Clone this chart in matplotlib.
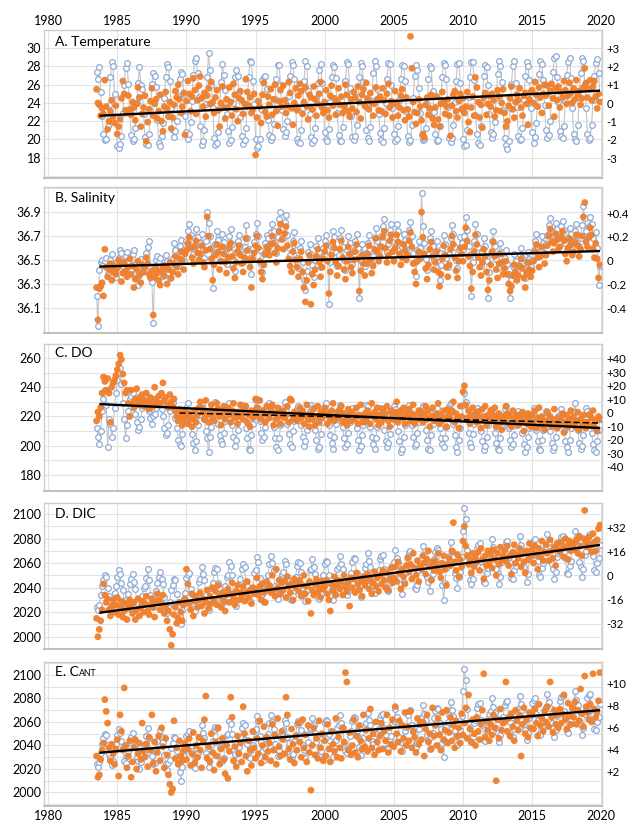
import numpy as np
import matplotlib
matplotlib.use("Agg")
import matplotlib.pyplot as plt

plt.rcParams["font.family"] = ["Lato", "DejaVu Sans"]

# sampling: first value 1983.5, then every 0.1 year (rows = one year)
start_year = 1983.5
step_year = 0.1

# ---------------- A. Temperature ----------------
temp_obs = [
    27.4, 26.6, 27.9, 25.2, 22.6,
    20.6, 19.9, 20.1, 21.5, 23.8, 26.8, 28.5, 28.1, 25.0, 22.4,
    19.3, 19.1, 19.5, 20.4, 22.9, 26.0, 27.8, 28.4, 26.1, 23.0,
    20.5, 19.8, 20.0, 21.2, 24.0, 26.2, 27.9, 26.0, 25.5, 22.8,
    20.3, 19.5, 19.4, 20.6, 23.2, 26.1, 27.3, 27.0, 25.8, 22.1,
    19.6, 19.3, 20.4, 21.8, 24.5, 26.9, 28.3, 27.9, 26.4, 23.5,
    21.0, 20.3, 20.9, 22.0, 24.8, 26.6, 27.4, 27.2, 25.0, 22.6,
    20.8, 20.1, 20.6, 21.9, 24.2, 27.1, 28.6, 28.9, 27.3, 24.6,
    21.5, 19.4, 19.8, 21.0, 23.9, 26.8, 29.5, 27.6, 26.0, 23.4,
    20.2, 19.4, 19.6, 20.8, 23.5, 26.3, 28.3, 27.1, 25.4, 22.8,
    20.9, 19.6, 19.9, 21.4, 24.0, 26.8, 27.6, 27.0, 25.2, 22.5,
    20.4, 19.5, 19.9, 21.2, 23.9, 26.9, 28.6, 28.5, 26.4, 23.9,
    20.1, 19.1, 19.3, 20.0, 23.3, 26.5, 26.9, 27.0, 25.5, 22.1,
    20.5, 19.9, 20.3, 21.7, 24.4, 26.6, 28.2, 28.2, 26.0, 23.2,
    21.1, 20.4, 20.8, 22.0, 24.8, 27.0, 28.5, 28.2, 26.6, 23.6,
    20.1, 19.7, 19.6, 21.0, 23.5, 26.4, 28.6, 28.0, 25.3, 22.8,
    20.3, 19.6, 19.9, 21.3, 24.5, 26.2, 27.6, 28.3, 26.2, 23.8,
    20.8, 20.0, 19.8, 21.1, 24.1, 26.8, 28.2, 27.9, 26.7, 22.9,
    20.5, 19.8, 19.8, 21.4, 23.8, 26.4, 28.5, 28.3, 25.6, 22.6,
    20.3, 19.9, 20.4, 21.6, 24.6, 26.8, 28.4, 28.1, 26.3, 23.7,
    21.0, 20.2, 19.8, 21.4, 24.2, 27.3, 28.6, 28.0, 25.5, 22.8,
    20.7, 19.9, 19.7, 21.2, 24.0, 26.6, 28.4, 28.3, 26.0, 23.5,
    20.6, 19.8, 20.0, 21.5, 24.3, 26.6, 28.2, 28.1, 26.4, 23.1,
    20.4, 19.7, 19.9, 21.6, 24.5, 27.0, 28.2, 27.6, 25.6, 22.9,
    20.5, 19.9, 20.1, 21.3, 23.9, 26.6, 28.0, 27.8, 25.3, 23.0,
    20.6, 19.8, 19.9, 21.5, 24.3, 26.9, 28.4, 28.2, 26.6, 23.6,
    20.2, 19.7, 20.2, 21.6, 24.1, 26.4, 28.3, 28.4, 26.2, 23.4,
    20.1, 19.3, 19.4, 21.0, 24.6, 26.9, 28.5, 28.5, 26.5, 22.7,
    20.6, 19.6, 19.4, 21.5, 24.0, 27.0, 28.2, 27.9, 26.0, 22.8,
    20.8, 20.2, 20.6, 21.9, 24.5, 27.2, 28.6, 28.1, 26.3, 23.2,
    20.2, 19.4, 19.0, 19.8, 23.4, 26.1, 28.0, 28.6, 26.2, 23.6,
    20.4, 19.9, 20.1, 21.2, 24.3, 27.0, 28.5, 28.0, 26.5, 23.4,
    20.8, 19.6, 20.3, 21.8, 24.6, 27.2, 28.6, 28.3, 26.5, 23.8,
    21.0, 20.2, 20.5, 22.0, 24.9, 27.4, 28.9, 29.2, 26.8, 24.1,
    20.9, 20.4, 20.2, 21.5, 24.2, 27.1, 28.5, 28.9, 26.7, 23.5,
    20.6, 20.1, 19.8, 21.6, 24.6, 27.3, 28.9, 28.6, 26.1, 23.5,
    20.6, 19.9, 20.2, 21.6, 24.3, 27.0, 28.4, 28.8, 27.3, 24.6,
]
temp_anom = [
    25.5, 24.0, 23.8, 22.6, 23.4,
    22.8, 26.5, 23.6, 21.1, 22.0, 23.1, 24.3, 22.5, 21.8, 23.7,
    20.6, 21.4, 22.2, 24.5, 26.4, 25.0, 23.2, 22.9, 24.8, 23.3,
    22.7, 24.1, 23.5, 22.1, 23.9, 25.7, 24.6, 21.4, 22.8, 23.5,
    24.8, 19.8, 21.9, 23.3, 24.2, 25.6, 22.6, 23.9, 24.4, 22.3,
    23.1, 24.9, 22.0, 20.9, 23.6, 25.2, 23.4, 22.5, 24.1, 21.2,
    22.4, 23.8, 25.3, 24.6, 26.0, 24.4, 22.9, 23.6, 25.1, 20.5,
    24.2, 26.4, 25.0, 23.1, 24.7, 26.7, 25.4, 22.8, 24.3, 25.9,
    26.9, 24.5, 23.6, 25.1, 22.5, 24.8, 25.6, 23.9, 26.3, 24.1,
    22.9, 24.6, 25.4, 23.2, 21.4, 24.0, 25.8, 23.5, 22.3, 24.4,
    23.5, 25.7, 24.1, 22.6, 26.1, 24.9, 23.3, 22.0, 24.5, 25.3,
    24.3, 22.8, 23.9, 26.6, 25.2, 23.7, 24.6, 22.9, 23.3, 25.0,
    18.3, 22.4, 24.2, 23.6, 21.8, 24.9, 26.2, 23.0, 22.5, 24.7,
    23.8, 25.5, 22.7, 24.4, 26.0, 23.1, 21.5, 24.2, 25.4, 23.6,
    25.9, 24.3, 22.9, 23.7, 26.3, 25.1, 23.4, 21.6, 24.0, 25.6,
    23.2, 24.8, 26.1, 25.3, 22.8, 24.1, 25.7, 23.6, 22.2, 24.9,
    24.6, 23.3, 25.8, 24.4, 22.6, 23.9, 25.0, 26.3, 23.5, 22.9,
    24.1, 25.4, 23.2, 22.4, 24.8, 25.9, 23.7, 24.5, 22.7, 24.2,
    25.6, 23.8, 24.7, 22.9, 23.6, 26.0, 24.9, 23.1, 22.5, 24.4,
    23.4, 25.2, 24.6, 23.0, 25.8, 24.1, 22.3, 24.9, 25.5, 23.7,
    26.2, 24.5, 23.3, 25.1, 24.0, 22.6, 23.9, 25.7, 24.4, 23.2,
    24.7, 23.1, 25.6, 24.3, 22.8, 25.0, 26.1, 23.5, 24.2, 22.4,
    23.9, 25.3, 24.0, 22.6, 23.5, 24.8, 25.5, 23.2, 22.1, 24.6,
    23.3, 22.5, 31.3, 27.8, 24.1, 23.0, 21.7, 22.9, 24.4, 23.6,
    22.1, 20.6, 20.2, 23.8, 24.6, 22.7, 23.4, 24.9, 22.3, 21.6,
    23.5, 24.7, 22.2, 21.4, 23.9, 25.2, 24.1, 22.8, 23.6, 24.4,
    22.6, 20.4, 23.7, 24.9, 25.3, 23.1, 22.4, 24.2, 25.0, 23.3,
    24.5, 22.9, 23.6, 25.2, 21.9, 20.8, 23.5, 24.7, 22.6, 26.8,
    25.7, 24.1, 22.4, 23.8, 21.3, 24.6, 25.1, 22.7, 23.9, 24.8,
    23.6, 25.0, 24.3, 22.5, 23.2, 25.4, 24.7, 23.1, 24.0, 25.5,
    22.9, 21.4, 22.0, 23.7, 24.5, 25.8, 23.3, 22.4, 24.1, 24.9,
    24.3, 25.6, 23.5, 22.6, 24.8, 25.1, 23.9, 21.6, 24.4, 25.2,
    25.4, 24.0, 26.3, 24.9, 23.6, 25.7, 24.6, 22.9, 25.0, 26.0,
    24.8, 25.9, 23.7, 25.3, 26.1, 24.5, 22.5, 25.6, 24.3, 25.8,
    23.5, 25.2, 24.6, 26.4, 25.4, 23.9, 24.8, 26.2, 25.1, 24.0,
    25.6, 24.4, 26.5, 24.9, 25.3, 23.8, 24.5, 25.7, 27.8, 26.2,
    24.6, 25.5, 26.5, 24.3, 25.8, 26.4, 24.7, 23.4, 25.0, 24.1,
]
temp_trend = [22.6, 25.35]

# ---------------- B. Salinity ----------------
sal_obs = [
    36.20, 35.95, 36.42, 36.48, 36.50,
    36.46, 36.49, 36.52, 36.38, 36.44, 36.50, 36.55, 36.47, 36.41, 36.36,
    36.48, 36.52, 36.58, 36.56, 36.45, 36.40, 36.53, 36.57, 36.49, 36.44,
    36.42, 36.55, 36.58, 36.47, 36.36, 36.29, 36.45, 36.51, 36.40, 36.47,
    36.50, 36.56, 36.61, 36.66, 36.43, 36.32, 35.97, 36.44, 36.50, 36.53,
    36.48, 36.52, 36.41, 36.37, 36.46, 36.54, 36.49, 36.39, 36.35, 36.47,
    36.52, 36.64, 36.58, 36.51, 36.45, 36.62, 36.67, 36.55, 36.49, 36.59,
    36.66, 36.74, 36.80, 36.71, 36.62, 36.55, 36.68, 36.76, 36.69, 36.58,
    36.64, 36.72, 36.59, 36.52, 36.66, 36.90, 36.81, 36.70, 36.60, 36.27,
    36.55, 36.63, 36.74, 36.67, 36.49, 36.58, 36.72, 36.65, 36.56, 36.47,
    36.60, 36.70, 36.76, 36.63, 36.50, 36.41, 36.57, 36.66, 36.71, 36.62,
    36.55, 36.48, 36.61, 36.79, 36.68, 36.59, 36.52, 36.38, 36.60, 36.65,
    36.72, 36.81, 36.70, 36.58, 36.47, 36.40, 36.55, 36.64, 36.71, 36.68,
    36.62, 36.73, 36.80, 36.74, 36.65, 36.56, 36.69, 36.84, 36.90, 36.76,
    36.68, 36.82, 36.88, 36.71, 36.60, 36.54, 36.47, 36.66, 36.73, 36.58,
    36.52, 36.43, 36.60, 36.66, 36.48, 36.33, 36.25, 36.41, 36.57, 36.63,
    36.55, 36.46, 36.36, 36.50, 36.62, 36.68, 36.57, 36.44, 36.52, 36.60,
    36.66, 36.71, 36.58, 36.13, 36.48, 36.63, 36.74, 36.69, 36.57, 36.45,
    36.54, 36.68, 36.75, 36.61, 36.50, 36.42, 36.58, 36.70, 36.64, 36.52,
    36.47, 36.58, 36.66, 36.72, 36.60, 36.18, 36.49, 36.63, 36.55, 36.45,
    36.56, 36.64, 36.71, 36.59, 36.47, 36.53, 36.68, 36.77, 36.66, 36.58,
    36.62, 36.70, 36.78, 36.84, 36.69, 36.57, 36.63, 36.75, 36.80, 36.66,
    36.58, 36.69, 36.80, 36.74, 36.64, 36.55, 36.61, 36.72, 36.67, 36.59,
    36.63, 36.75, 36.82, 36.70, 36.56, 36.48, 36.37, 36.58, 36.66, 36.60,
    37.06, 36.78, 36.64, 36.51, 36.42, 36.55, 36.68, 36.74, 36.62, 36.50,
    36.57, 36.66, 36.48, 36.33, 36.46, 36.60, 36.71, 36.63, 36.52, 36.44,
    36.55, 36.68, 36.79, 36.72, 36.61, 36.50, 36.43, 36.58, 36.69, 36.64,
    36.58, 36.70, 36.86, 36.75, 36.62, 36.54, 36.20, 36.48, 36.66, 36.80,
    36.72, 36.61, 36.53, 36.45, 36.57, 36.68, 36.62, 36.49, 36.18, 36.40,
    36.55, 36.66, 36.74, 36.62, 36.51, 36.43, 36.56, 36.64, 36.57, 36.46,
    36.52, 36.58, 36.47, 36.38, 36.18, 36.33, 36.45, 36.55, 36.49, 36.41,
    36.46, 36.54, 36.60, 36.52, 36.43, 36.35, 36.48, 36.57, 36.51, 36.44,
    36.50, 36.58, 36.66, 36.72, 36.61, 36.53, 36.62, 36.70, 36.64, 36.56,
    36.63, 36.71, 36.79, 36.85, 36.74, 36.66, 36.73, 36.81, 36.76, 36.68,
    36.70, 36.78, 36.83, 36.75, 36.64, 36.58, 36.69, 36.77, 36.72, 36.63,
    36.66, 36.74, 36.80, 36.71, 36.62, 36.68, 36.79, 36.95, 36.85, 36.74,
    36.70, 36.78, 36.86, 36.80, 36.68, 36.61, 36.73, 36.60, 36.29, 36.45,
]
sal_anom = [
    36.27, 36.00, 36.26, 36.28, 36.31,
    36.20, 36.59, 36.44, 36.36, 36.42, 36.47, 36.33, 36.40, 36.45, 36.38,
    36.43, 36.50, 36.46, 36.32, 36.39, 36.48, 36.41, 36.36, 36.44, 36.51,
    36.38, 36.45, 36.27, 36.34, 36.42, 36.49, 36.37, 36.31, 36.46, 36.40,
    36.44, 36.52, 36.47, 36.38, 36.35, 36.41, 36.04, 36.36, 36.43, 36.39,
    36.33, 36.29, 36.41, 36.45, 36.37, 36.44, 36.30, 36.42, 36.48, 36.35,
    36.40, 36.47, 36.53, 36.44, 36.38, 36.51, 36.57, 36.49, 36.42, 36.55,
    36.58, 36.64, 36.69, 36.60, 36.52, 36.47, 36.61, 36.66, 36.56, 36.50,
    36.55, 36.62, 36.48, 36.44, 36.58, 36.86, 36.70, 36.59, 36.51, 36.33,
    36.46, 36.54, 36.63, 36.57, 36.42, 36.49, 36.61, 36.55, 36.48, 36.39,
    36.52, 36.60, 36.64, 36.53, 36.43, 36.35, 36.48, 36.57, 36.62, 36.54,
    36.47, 36.40, 36.52, 36.68, 36.58, 36.50, 36.44, 36.27, 36.51, 36.56,
    36.62, 36.70, 36.60, 36.49, 36.40, 36.34, 36.46, 36.55, 36.61, 36.58,
    36.54, 36.63, 36.70, 36.64, 36.56, 36.48, 36.60, 36.74, 36.80, 36.67,
    36.59, 36.72, 36.78, 36.62, 36.51, 36.45, 36.40, 36.57, 36.64, 36.50,
    36.44, 36.36, 36.51, 36.57, 36.40, 36.27, 36.15, 36.33, 36.48, 36.54,
    36.13, 36.38, 36.29, 36.42, 36.53, 36.59, 36.48, 36.36, 36.44, 36.51,
    36.57, 36.62, 36.49, 36.22, 36.40, 36.54, 36.65, 36.60, 36.48, 36.37,
    36.45, 36.59, 36.66, 36.52, 36.42, 36.34, 36.49, 36.61, 36.55, 36.44,
    36.39, 36.50, 36.57, 36.63, 36.51, 36.24, 36.41, 36.54, 36.47, 36.37,
    36.47, 36.55, 36.62, 36.50, 36.39, 36.45, 36.59, 36.68, 36.57, 36.49,
    36.53, 36.61, 36.69, 36.74, 36.60, 36.48, 36.54, 36.66, 36.71, 36.57,
    36.49, 36.60, 36.71, 36.65, 36.55, 36.46, 36.52, 36.63, 36.58, 36.50,
    36.54, 36.66, 36.73, 36.61, 36.47, 36.40, 36.30, 36.49, 36.57, 36.51,
    36.90, 36.69, 36.55, 36.43, 36.34, 36.46, 36.59, 36.65, 36.53, 36.42,
    36.48, 36.57, 36.40, 36.28, 36.38, 36.51, 36.62, 36.54, 36.44, 36.36,
    36.46, 36.59, 36.70, 36.63, 36.52, 36.41, 36.35, 36.49, 36.60, 36.55,
    36.49, 36.61, 36.77, 36.66, 36.53, 36.45, 36.26, 36.40, 36.57, 36.71,
    36.63, 36.52, 36.44, 36.37, 36.48, 36.59, 36.53, 36.40, 36.25, 36.33,
    36.46, 36.57, 36.65, 36.53, 36.42, 36.35, 36.47, 36.55, 36.48, 36.38,
    36.43, 36.49, 36.38, 36.30, 36.24, 36.28, 36.37, 36.46, 36.40, 36.33,
    36.37, 36.45, 36.51, 36.43, 36.35, 36.27, 36.39, 36.48, 36.42, 36.36,
    36.41, 36.49, 36.57, 36.63, 36.52, 36.44, 36.53, 36.61, 36.55, 36.47,
    36.54, 36.62, 36.70, 36.76, 36.65, 36.57, 36.64, 36.72, 36.67, 36.59,
    36.61, 36.69, 36.74, 36.66, 36.55, 36.49, 36.60, 36.68, 36.63, 36.54,
    36.57, 36.65, 36.71, 36.62, 36.53, 36.59, 36.70, 36.86, 36.98, 36.65,
    36.61, 36.69, 36.77, 36.71, 36.59, 36.52, 36.64, 36.51, 36.35, 36.46,
]
sal_trend = [36.445, 36.575]

# ---------------- C. DO ----------------
do_obs = [
    212, 206, 201, 210, 224,
    232, 238, 228, 199, 218, 215, 206, 212, 226, 236,
    245, 250, 253, 242, 229, 218, 205, 214, 224, 232,
    234, 236, 229, 222, 216, 211, 213, 218, 226, 229,
    231, 233, 228, 224, 219, 215, 220, 222, 226, 230,
    228, 231, 225, 220, 212, 207, 209, 214, 224, 227,
    229, 225, 219, 212, 204, 201, 200, 208, 216, 222,
    226, 229, 224, 216, 208, 202, 197, 203, 214, 221,
    224, 228, 226, 218, 210, 205, 196, 206, 213, 220,
    227, 230, 225, 215, 207, 203, 201, 209, 217, 222,
    225, 229, 223, 214, 206, 200, 204, 211, 218, 224,
    228, 226, 220, 212, 205, 198, 197, 207, 215, 223,
    231, 232, 226, 217, 209, 204, 206, 213, 219, 225,
    229, 227, 221, 213, 205, 199, 197, 205, 214, 222,
    226, 230, 224, 215, 208, 201, 199, 210, 217, 221,
    225, 227, 222, 214, 206, 200, 203, 211, 218, 224,
    228, 226, 219, 211, 204, 198, 199, 208, 216, 222,
    227, 229, 223, 214, 207, 202, 198, 206, 215, 221,
    225, 228, 222, 213, 205, 199, 201, 209, 216, 223,
    226, 224, 219, 212, 204, 197, 200, 207, 214, 220,
    228, 227, 221, 213, 206, 201, 198, 205, 213, 221,
    224, 226, 220, 211, 203, 199, 202, 208, 215, 222,
    227, 225, 218, 210, 203, 196, 198, 206, 214, 221,
    226, 228, 222, 214, 206, 200, 201, 209, 216, 223,
    225, 227, 220, 211, 204, 198, 197, 207, 215, 220,
    224, 226, 221, 212, 205, 201, 199, 205, 213, 221,
    227, 229, 224, 215, 207, 199, 196, 204, 212, 219,
    228, 236, 230, 218, 209, 202, 199, 208, 215, 222,
    226, 224, 219, 210, 203, 197, 200, 206, 214, 220,
    223, 225, 218, 209, 202, 198, 197, 205, 213, 219,
    225, 227, 221, 212, 204, 199, 201, 207, 214, 221,
    224, 222, 217, 209, 201, 196, 199, 206, 212, 218,
    222, 226, 220, 211, 203, 198, 197, 204, 211, 219,
    224, 223, 218, 210, 202, 197, 199, 206, 213, 220,
    221, 225, 219, 210, 203, 199, 196, 204, 212, 218,
    223, 229, 220, 211, 202, 198, 200, 207, 214, 226,
    224, 222, 217, 209, 201, 197, 196, 203, 211, 218,
]
do_anom = [
    217, 223, 220, 226, 236,
    247, 244, 238, 246, 236, 216, 240, 243, 245, 248,
    252, 256, 262, 259, 249, 243, 236, 238, 229, 220,
    238, 229, 226, 232, 239, 228, 233, 230, 235, 227,
    231, 236, 229, 225, 233, 230, 227, 240, 232, 228,
    234, 229, 236, 243, 231, 233, 228, 226, 235, 230,
    227, 232, 224, 220, 217, 225, 221, 214, 218, 223,
    220, 215, 222, 218, 213, 219, 224, 216, 221, 226,
    230, 226, 223, 218, 231, 221, 216, 224, 228, 219,
    217, 223, 229, 225, 220, 214, 222, 227, 218, 224,
    226, 221, 216, 224, 229, 219, 223, 215, 220, 228,
    222, 218, 225, 227, 216, 221, 213, 224, 219, 223,
    232, 226, 220, 231, 218, 224, 222, 216, 227, 221,
    219, 225, 228, 214, 222, 218, 226, 220, 215, 223,
    224, 219, 221, 227, 216, 232, 231, 218, 223, 220,
    217, 222, 226, 219, 224, 215, 221, 228, 218, 213,
    222, 218, 225, 214, 220, 227, 216, 223, 219, 224,
    226, 221, 215, 222, 218, 224, 229, 217, 220, 223,
    219, 224, 227, 216, 222, 218, 214, 225, 221, 217,
    223, 218, 220, 226, 215, 221, 228, 219, 216, 222,
    217, 224, 221, 215, 229, 220, 223, 218, 226, 214,
    221, 216, 225, 219, 222, 227, 217, 213, 224, 220,
    218, 223, 230, 216, 221, 224, 219, 226, 215, 222,
    220, 225, 217, 222, 228, 215, 221, 218, 224, 219,
    223, 216, 221, 227, 218, 224, 213, 220, 226, 217,
    219, 222, 229, 215, 221, 217, 224, 219, 213, 225,
    221, 218, 224, 230, 216, 222, 219, 212, 227, 220,
    237, 241, 228, 219, 224, 215, 221, 226, 218, 222,
    216, 223, 219, 212, 225, 220, 227, 214, 221, 218,
    224, 217, 221, 226, 213, 219, 222, 216, 211, 220,
    218, 227, 222, 215, 220, 213, 224, 219, 216, 221,
    214, 220, 217, 223, 210, 219, 215, 222, 218, 213,
    221, 216, 224, 212, 219, 226, 214, 220, 217, 211,
    217, 223, 215, 220, 213, 218, 225, 216, 212, 219,
    214, 219, 222, 209, 216, 221, 213, 218, 224, 215,
    220, 213, 217, 223, 211, 218, 214, 221, 216, 212,
    216, 221, 214, 219, 224, 213, 217, 210, 220, 218,
]
do_trend = [228.5, 212.1]
do_trend2_years = [1989.5, 2019.9]
do_trend2 = [222.4, 215.5]

# ---------------- D. DIC ----------------
dic_obs = [
    2024, 2022, 2026, 2034, 2041,
    2046, 2050, 2049, 2040, 2033, 2029, 2023, 2027, 2036, 2041,
    2049, 2054, 2051, 2044, 2038, 2027, 2025, 2031, 2035, 2043,
    2047, 2051, 2045, 2039, 2030, 2027, 2020, 2026, 2033, 2040,
    2041, 2048, 2055, 2046, 2034, 2031, 2024, 2025, 2037, 2044,
    2049, 2053, 2047, 2043, 2032, 2024, 2019, 2025, 2028, 2038,
    2042, 2047, 2046, 2035, 2025, 2017, 2010, 2022, 2031, 2036,
    2048, 2050, 2052, 2039, 2035, 2023, 2021, 2030, 2034, 2045,
    2047, 2057, 2051, 2046, 2034, 2030, 2022, 2031, 2040, 2044,
    2053, 2056, 2055, 2044, 2039, 2028, 2027, 2029, 2041, 2049,
    2050, 2061, 2058, 2050, 2036, 2033, 2025, 2034, 2039, 2047,
    2055, 2059, 2057, 2045, 2041, 2030, 2029, 2036, 2040, 2052,
    2054, 2065, 2061, 2048, 2043, 2035, 2028, 2038, 2042, 2050,
    2059, 2066, 2060, 2054, 2041, 2037, 2031, 2036, 2047, 2051,
    2053, 2062, 2059, 2047, 2042, 2031, 2030, 2033, 2044, 2049,
    2058, 2061, 2060, 2053, 2040, 2036, 2029, 2038, 2043, 2054,
    2055, 2063, 2057, 2051, 2043, 2032, 2031, 2035, 2046, 2050,
    2059, 2062, 2061, 2050, 2044, 2038, 2030, 2039, 2045, 2055,
    2057, 2066, 2059, 2055, 2042, 2035, 2034, 2037, 2048, 2052,
    2061, 2064, 2063, 2052, 2047, 2039, 2032, 2042, 2046, 2056,
    2059, 2068, 2062, 2057, 2044, 2041, 2036, 2039, 2050, 2054,
    2063, 2066, 2067, 2055, 2049, 2038, 2037, 2044, 2048, 2058,
    2061, 2071, 2064, 2060, 2047, 2043, 2035, 2045, 2052, 2056,
    2066, 2069, 2070, 2057, 2052, 2040, 2039, 2042, 2054, 2061,
    2064, 2074, 2067, 2062, 2049, 2045, 2037, 2047, 2051, 2063,
    2069, 2072, 2071, 2059, 2054, 2042, 2030, 2044, 2056, 2060,
    2066, 2077, 2070, 2065, 2052, 2048, 2040, 2049, 2053, 2065,
    2086, 2105, 2096, 2071, 2060, 2046, 2043, 2047, 2059, 2062,
    2072, 2075, 2076, 2062, 2057, 2045, 2044, 2052, 2056, 2067,
    2069, 2080, 2073, 2068, 2055, 2051, 2043, 2049, 2061, 2064,
    2074, 2077, 2078, 2065, 2060, 2048, 2047, 2054, 2058, 2069,
    2071, 2082, 2075, 2070, 2057, 2053, 2045, 2051, 2063, 2066,
    2076, 2079, 2080, 2067, 2062, 2050, 2049, 2056, 2060, 2071,
    2073, 2084, 2077, 2072, 2059, 2055, 2047, 2053, 2065, 2068,
    2078, 2081, 2082, 2069, 2064, 2052, 2051, 2058, 2062, 2073,
    2075, 2086, 2079, 2074, 2061, 2057, 2049, 2055, 2067, 2070,
    2080, 2083, 2084, 2071, 2066, 2054, 2053, 2060, 2064, 2075,
]
dic_anom = [
    2015, 2000, 2006, 2013, 2022,
    2043, 2034, 2028, 2031, 2022, 2017, 2025, 2030, 2020, 2026,
    2032, 2018, 2024, 2029, 2016, 2021, 2027, 2014, 2023, 2030,
    2025, 2019, 2028, 2014, 2022, 2031, 2017, 2024, 2029, 2020,
    2027, 2033, 2021, 2018, 2026, 2031, 2024, 2016, 2028, 2035,
    2030, 2022, 2027, 2034, 2019, 2025, 2013, 2021, 2006, 1993,
    2002, 2018, 2024, 2011, 2015, 2028, 2020, 2013, 2026, 2031,
    2055, 2043, 2027, 2022, 2035, 2017, 2029, 2033, 2024, 2030,
    2036, 2025, 2031, 2019, 2028, 2038, 2023, 2033, 2027, 2040,
    2030, 2037, 2026, 2042, 2033, 2024, 2036, 2029, 2021, 2034,
    2039, 2028, 2035, 2044, 2031, 2026, 2037, 2042, 2030, 2036,
    2033, 2041, 2029, 2036, 2045, 2032, 2038, 2027, 2040, 2035,
    2037, 2048, 2034, 2041, 2030, 2043, 2036, 2028, 2045, 2039,
    2042, 2036, 2050, 2038, 2033, 2055, 2040, 2046, 2035, 2044,
    2038, 2045, 2032, 2049, 2041, 2036, 2043, 2030, 2047, 2040,
    2044, 2037, 2046, 2033, 2042, 2050, 2035, 2041, 2029, 2045,
    2019, 2038, 2034, 2043, 2047, 2036, 2040, 2032, 2045, 2039,
    2041, 2046, 2035, 2030, 2021, 2043, 2038, 2049, 2034, 2042,
    2046, 2039, 2045, 2034, 2050, 2041, 2037, 2044, 2025, 2048,
    2040, 2047, 2036, 2052, 2043, 2038, 2046, 2033, 2049, 2042,
    2045, 2051, 2039, 2047, 2035, 2044, 2053, 2041, 2048, 2037,
    2050, 2043, 2054, 2046, 2040, 2052, 2038, 2047, 2056, 2044,
    2048, 2057, 2045, 2061, 2052, 2039, 2055, 2049, 2043, 2058,
    2064, 2053, 2059, 2047, 2068, 2056, 2050, 2062, 2045, 2058,
    2055, 2066, 2060, 2051, 2063, 2070, 2057, 2046, 2061, 2054,
    2062, 2057, 2068, 2053, 2048, 2060, 2066, 2055, 2042, 2059,
    2064, 2058, 2070, 2093, 2061, 2054, 2067, 2049, 2063, 2057,
    2078, 2090, 2074, 2066, 2059, 2063, 2052, 2068, 2057, 2065,
    2061, 2069, 2054, 2072, 2063, 2047, 2066, 2058, 2070, 2060,
    2067, 2056, 2071, 2063, 2050, 2068, 2059, 2073, 2062, 2066,
    2070, 2062, 2074, 2058, 2066, 2051, 2069, 2075, 2060, 2067,
    2064, 2072, 2057, 2068, 2061, 2052, 2070, 2063, 2076, 2066,
    2071, 2060, 2074, 2067, 2055, 2072, 2065, 2078, 2062, 2069,
    2075, 2068, 2062, 2079, 2070, 2064, 2073, 2058, 2076, 2071,
    2069, 2077, 2072, 2065, 2080, 2074, 2063, 2078, 2070, 2075,
    2076, 2071, 2079, 2068, 2082, 2074, 2066, 2080, 2103, 2077,
    2073, 2081, 2075, 2069, 2084, 2077, 2070, 2079, 2088, 2091,
]
dic_trend = [2019.5, 2074.8]

# ---------------- E. C_ANT (open circles: same DIC record) ----------------
cant_obs = dic_obs
cant_anom = [
    2031, 2013, 2015, 2028, 2036,
    2042, 2079, 2069, 2059, 2038, 2027, 2041, 2033, 2024, 2037,
    2045, 2014, 2066, 2052, 2036, 2089, 2040, 2021, 2031, 2044,
    2013, 2026, 2038, 2045, 2020, 2033, 2042, 2028, 2059, 2035,
    2030, 2041, 2022, 2047, 2036, 2066, 2025, 2043, 2018, 2034,
    2048, 2027, 2055, 2039, 2021, 2046, 2032, 2015, 2007, 2000,
    2003, 2061, 2029, 2038, 2024, 2044, 2031, 2027, 2036, 2042,
    2028, 2037, 2046, 2023, 2033, 2051, 2025, 2040, 2030, 2047,
    2036, 2021, 2044, 2062, 2082, 2029, 2039, 2026, 2050, 2034,
    2019, 2043, 2031, 2055, 2024, 2037, 2046, 2028, 2016, 2040,
    2012, 2035, 2081, 2064, 2027, 2039, 2022, 2048, 2033, 2042,
    2026, 2073, 2050, 2031, 2018, 2044, 2036, 2023, 2052, 2038,
    2029, 2046, 2033, 2061, 2025, 2040, 2056, 2030, 2047, 2035,
    2042, 2027, 2058, 2036, 2049, 2024, 2063, 2039, 2031, 2052,
    2045, 2033, 2081, 2066, 2037, 2028, 2054, 2041, 2025, 2048,
    2036, 2059, 2043, 2030, 2062, 2038, 2049, 2026, 2057, 2034,
    2002, 2040, 2055, 2032, 2046, 2029, 2061, 2038, 2050, 2027,
    2044, 2031, 2058, 2037, 2026, 2052, 2041, 2035, 2063, 2030,
    2047, 2038, 2029, 2055, 2043, 2102, 2094, 2036, 2051, 2032,
    2040, 2062, 2034, 2048, 2030, 2057, 2044, 2037, 2066, 2039,
    2053, 2035, 2046, 2071, 2038, 2050, 2032, 2060, 2043, 2036,
    2048, 2059, 2037, 2052, 2044, 2066, 2034, 2055, 2041, 2062,
    2039, 2073, 2050, 2043, 2061, 2035, 2057, 2046, 2068, 2040,
    2056, 2044, 2069, 2038, 2052, 2047, 2034, 2063, 2041, 2058,
    2045, 2060, 2031, 2054, 2066, 2043, 2050, 2037, 2072, 2048,
    2057, 2040, 2063, 2049, 2036, 2068, 2045, 2053, 2070, 2042,
    2051, 2064, 2044, 2057, 2038, 2061, 2048, 2055, 2042, 2067,
    2049, 2059, 2072, 2046, 2083, 2054, 2043, 2062, 2050, 2040,
    2064, 2052, 2045, 2058, 2070, 2101, 2047, 2061, 2053, 2044,
    2058, 2049, 2066, 2055, 2010, 2062, 2046, 2071, 2053, 2059,
    2060, 2094, 2052, 2063, 2048, 2067, 2056, 2044, 2070, 2061,
    2053, 2065, 2031, 2058, 2072, 2050, 2062, 2047, 2068, 2055,
    2066, 2054, 2071, 2059, 2048, 2075, 2057, 2063, 2052, 2069,
    2060, 2073, 2056, 2094, 2064, 2051, 2070, 2058, 2066, 2055,
    2071, 2059, 2067, 2083, 2062, 2054, 2076, 2065, 2058, 2072,
    2064, 2077, 2058, 2070, 2061, 2088, 2067, 2056, 2099, 2073,
    2068, 2062, 2075, 2060, 2101, 2071, 2064, 2069, 2078, 2102,
]
cant_trend = [2033.8, 2070.0]

trend_years = [1983.7, 2019.9]

ORANGE = "#ef7f2c"
BLUE_EDGE = "#8eaad6"
LINE_GRAY = "#c4c4c4"
GRID_COLOR = "#e3e3e3"
SPINE_COLOR = "#cdcdcd"

fig = plt.figure(figsize=(6.28, 8.26), dpi=100)

W, H = 628, 826
left_px, right_px = 44, 602
panel_px = [(30, 178), (187, 333), (344, 491), (503, 649), (662, 806)]


def make_axes(top, bottom):
    return fig.add_axes([left_px / W, 1 - bottom / H,
                         (right_px - left_px) / W, (bottom - top) / H])


def years_of(values):
    return start_year + step_year * np.arange(len(values))


def draw_panel(ax, obs, anom, trend, ylim, yticks, yticklabels, ygrid,
               rlim, rticks, rlabels):
    t_obs = years_of(obs)
    ax.plot(t_obs, obs, color=LINE_GRAY, lw=0.8, zorder=2)
    ax.plot(t_obs, obs, ls="none", marker="o", ms=4.1, mfc="white",
            mec=BLUE_EDGE, mew=0.9, zorder=3)
    ax.scatter(years_of(anom), anom, s=24, color=ORANGE, edgecolors="none",
               alpha=0.95, zorder=4)
    ax.plot(trend_years, trend, color="black", lw=1.7, zorder=6,
            solid_capstyle="butt")

    ax.set_xlim(1979.7, 2020.05)
    ax.set_ylim(*ylim)
    ax.set_xticks(np.arange(1980, 2021, 5))
    ax.set_yticks(yticks)
    ax.set_yticklabels(yticklabels)
    ax.set_yticks(ygrid, minor=True)
    ax.grid(True, which="both", color=GRID_COLOR, lw=0.8, zorder=0)
    ax.set_axisbelow(True)
    ax.tick_params(which="both", length=0, labelsize=9, pad=2)
    ax.tick_params(axis="x", labelbottom=False)
    for sp in ax.spines.values():
        sp.set_color(SPINE_COLOR)
        sp.set_linewidth(1.0)
    ax.spines["bottom"].set_color("#bfbfbf")
    ax.spines["bottom"].set_linewidth(1.4)

    # right-hand anomaly scale
    ax2 = ax.twinx()
    ax2.set_ylim(*rlim)
    ax2.set_yticks(rticks)
    ax2.set_yticklabels(rlabels)
    ax2.tick_params(length=0, labelsize=8.2, pad=3)
    for sp in ax2.spines.values():
        sp.set_visible(False)
    return ax2


axes = [make_axes(t, b) for t, b in panel_px]

# A. Temperature
draw_panel(axes[0], temp_obs, temp_anom, temp_trend, (15.77, 32.0),
           [18, 20, 22, 24, 26, 28, 30], ["18", "20", "22", "24", "26", "28", "30"],
           [16, 32], (-4.07, 3.98), [3, 2, 1, 0, -1, -2, -3],
           ["+3", "+2", "+1", "0", "-1", "-2", "-3"])
axes[0].tick_params(axis="x", labeltop=True, labelbottom=False, pad=2)
axes[0].text(0.019, 0.895, "A. Temperature", transform=axes[0].transAxes, fontsize=10)

# B. Salinity
draw_panel(axes[1], sal_obs, sal_anom, sal_trend, (35.89, 37.11),
           [36.1, 36.3, 36.5, 36.7, 36.9], ["36.1", "36.3", "36.5", "36.7", "36.9"],
           [35.9, 37.1], (-0.61, 0.62), [0.4, 0.2, 0, -0.2, -0.4],
           ["+0.4", "+0.2", "0", "-0.2", "-0.4"])
axes[1].text(0.019, 0.895, "B. Salinity", transform=axes[1].transAxes, fontsize=10)

# C. DO
draw_panel(axes[2], do_obs, do_anom, do_trend, (169, 269.6),
           [180, 200, 220, 240, 260], ["180", "200", "220", "240", "260"],
           [170, 190, 210, 230, 250], (-57.8, 51.1),
           [40, 30, 20, 10, 0, -10, -20, -30, -40],
           ["+40", "+30", "+20", "+10", "0", "-10", "-20", "-30", "-40"])
axes[2].plot(do_trend2_years, do_trend2, color="black", lw=1.1, ls=(0, (4, 2)), zorder=5)
axes[2].text(0.019, 0.91, "C. DO", transform=axes[2].transAxes, fontsize=10)

# D. DIC
draw_panel(axes[3], dic_obs, dic_anom, dic_trend, (1990, 2109),
           [2000, 2020, 2040, 2060, 2080, 2100],
           ["2000", "2020", "2040", "2060", "2080", "2100"],
           [1990, 2010, 2030, 2050, 2070, 2090], (-49.3, 48.0),
           [32, 16, 0, -16, -32], ["+32", "+16", "0", "-16", "-32"])
axes[3].text(0.019, 0.895, "D. DIC", transform=axes[3].transAxes, fontsize=10)

# E. C_ANT
draw_panel(axes[4], cant_obs, cant_anom, cant_trend, (1988.5, 2111),
           [2000, 2020, 2040, 2060, 2080, 2100],
           ["2000", "2020", "2040", "2060", "2080", "2100"],
           [1990, 2010, 2030, 2050, 2070, 2090, 2110], (-1.2, 12.0),
           [10, 8, 6, 4, 2], ["+10", "+8", "+6", "+4", "+2"])
axes[4].tick_params(axis="x", labelbottom=True, pad=3)
lab = axes[4].text(0.019, 0.9, "E. C", transform=axes[4].transAxes, fontsize=10)
fig.canvas.draw()
bb = lab.get_window_extent()
x_ant = axes[4].transAxes.inverted().transform((bb.x1 + 0.5, bb.y0))[0]
axes[4].text(x_ant, 0.9, "ANT", transform=axes[4].transAxes, fontsize=6.3)

fig.savefig("out.png", dpi=100)
